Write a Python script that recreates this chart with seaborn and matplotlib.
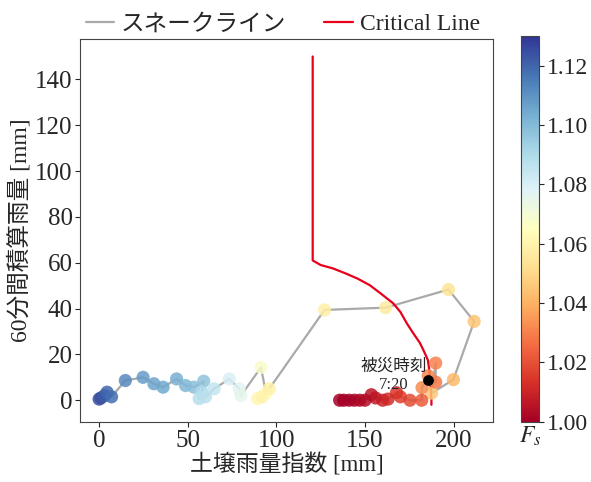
import numpy as np
import pandas as pd
import matplotlib
matplotlib.use('Agg')
import matplotlib.pyplot as plt
import seaborn as sns

# snake line (time order): soil water index, 60-min rainfall, safety factor
swi = [0, 1, 3, 4.5, 7, 14.8, 24.8, 30.9, 36.1, 43.7, 48.8, 53.5, 59.0,
       58.0, 56.4, 60.0, 64.9, 73.4, 79.0, 80.0, 91.3, 94.2, 89.4, 92.0,
       96.0, 127.2, 161.7, 197.1, 211.6, 199.9, 187.6, 189.9, 189.9, 185.7,
       182.2, 182.0, 175.4, 170.0, 167.8, 163.0, 160.0, 156.0, 153.6,
       150.0, 147.0, 144.0, 141.0, 138.0, 135.7]
rain60 = [0.5, 1.0, 2.0, 3.5, 1.5, 8.6, 10.0, 7.2, 5.7, 9.3, 6.4, 5.7, 8.3,
          3.6, 0.7, 1.5, 5.0, 9.3, 5.0, 2.0, 14.3, 3.0, 0.7, 1.5,
          5.0, 39.4, 40.4, 48.3, 34.4, 9.0, 3.1, 16.2, 7.9, 10.7,
          5.5, 0.0, 0.0, 1.5, 3.3, 0.5, 0.0, 1.0, 2.4,
          0.0, 0.0, 0.0, 0.0, 0.0, 0.0]
fs = [1.125, 1.124, 1.122, 1.120, 1.118, 1.112, 1.108, 1.106, 1.105, 1.103,
      1.101, 1.099, 1.097, 1.090, 1.088, 1.087, 1.085, 1.080, 1.077, 1.075,
      1.068, 1.064, 1.061, 1.060, 1.059, 1.058, 1.056, 1.054, 1.045, 1.042,
      1.046, 1.030, 1.028, 1.031, 1.032, 1.022, 1.019, 1.016, 1.014, 1.012,
      1.010, 1.008, 1.006, 1.004, 1.003, 1.002, 1.001, 1.000, 1.000]

# critical line
cl_swi = [120.5, 120.5, 125, 132, 139.5, 146, 152.7, 159, 165.9, 170, 173.5,
          177, 181, 183.5, 185.5, 186.5, 187, 187.5, 187.5]
cl_rain = [150, 61, 59, 57.5, 55.2, 53, 50.2, 46.5, 42.3, 38.5, 33.7,
           29.5, 25, 21, 17.5, 12, 6, 0, -2]

event_swi, event_rain = 185.7, 8.9
event_label = '被災時刻\n7:20'

sns.set_style('ticks')
plt.rcParams['font.family'] = ['Liberation Serif', 'Noto Sans CJK JP']
plt.rcParams['mathtext.fontset'] = 'stix'
plt.rcParams['axes.unicode_minus'] = False

df = pd.DataFrame({'swi': swi, 'rain': rain60, 'fs': fs})
cl = pd.DataFrame({'swi': cl_swi, 'rain': cl_rain})

fig = plt.figure(figsize=(5.91, 4.82), dpi=100)
ax = fig.add_axes([0.136, 0.124, 0.698, 0.795])
cax = fig.add_axes([0.882, 0.125, 0.030, 0.800])

sns.lineplot(data=df, x='swi', y='rain', sort=False, estimator=None,
             color='#aaaaaa', linewidth=1.6, label='スネークライン', ax=ax)
sns.lineplot(data=cl, x='swi', y='rain', sort=False, estimator=None,
             color='#e8001a', linewidth=1.6, label='Critical Line', ax=ax)
norm = plt.Normalize(1.0, 1.13)
sns.scatterplot(data=df, x='swi', y='rain', hue='fs', palette='RdYlBu',
                hue_norm=norm, s=90, alpha=0.85, edgecolor='none',
                legend=False, ax=ax, zorder=3)
ax.scatter([event_swi], [event_rain], s=45, color='black', zorder=4)
ax.text(event_swi - 19.5, 10.5, event_label, ha='center', va='center',
        fontsize=12, linespacing=1.2)

ax.set_xticks([0, 50, 100, 150, 200])
ax.set_yticks(range(0, 141, 20))
ax.tick_params(labelsize=18, pad=2)
ax.set_xlabel('土壌雨量指数 [mm]', fontsize=16.5, labelpad=1)
ax.set_ylabel('60分間積算雨量 [mm]', fontsize=17, labelpad=3)
for sp in ax.spines.values():
    sp.set_color('#444444')

ax.legend(loc='lower left', bbox_to_anchor=(-0.01, 0.985), ncol=2,
          frameon=False, fontsize=17, handlelength=1.2, handletextpad=0.3,
          columnspacing=1.6, borderaxespad=0)

sm = plt.cm.ScalarMappable(cmap='RdYlBu', norm=norm)
cb = fig.colorbar(sm, cax=cax)
cb.set_ticks([1.00, 1.02, 1.04, 1.06, 1.08, 1.10, 1.12])
cb.ax.set_yticklabels(['1.00', '1.02', '1.04', '1.06', '1.08', '1.10', '1.12'])
cb.ax.tick_params(labelsize=17, pad=2)
cb.outline.set_edgecolor('#444444')
cb.ax.set_xlabel('$F_s$', fontsize=17, labelpad=2)

fig.savefig('out.png', dpi=100)
